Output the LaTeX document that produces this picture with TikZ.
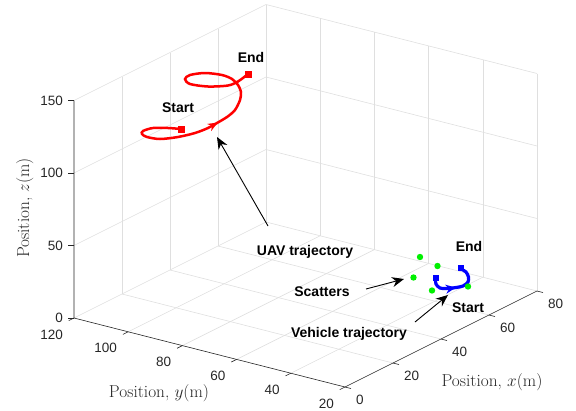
\documentclass[tikz,border=0pt]{standalone}
\usepackage{fontspec}
\newfontfamily\labelfont{Liberation Sans}
\usetikzlibrary{arrows.meta,decorations.markings}

\definecolor{gridgray}{RGB}{223,223,223}
\definecolor{axisgray}{RGB}{38,38,38}
\definecolor{uavred}{RGB}{255,0,0}
\definecolor{vehblue}{RGB}{0,0,255}
\definecolor{scatgreen}{RGB}{0,240,0}

\tikzset{
  gridline/.style={gridgray, line width=0.6pt},
  axisline/.style={axisgray, line width=0.6pt},
  ticklbl/.style={axisgray, font=\labelfont\fontsize{13.5}{14}\selectfont, inner sep=0pt},
  axtitle/.style={axisgray, font=\fontsize{17.3}{18}\selectfont, inner sep=0pt, anchor=base},
  annot/.style={font=\labelfont\bfseries\fontsize{14}{15}\selectfont, inner sep=0pt, anchor=base},
  pointer/.style={-{Stealth[length=12pt,width=10pt]}, line width=0.9pt},
  marker/.style={inner sep=0pt, minimum size=#1},
}

\begin{document}
\begin{tikzpicture}[x=1pt, y=-1pt]
\useasboundingbox (0,0) rectangle (576,410);

% box, grid and axes in data units (x, y, z)
\begin{scope}[shift={(399.2pt,-400.8pt)}, x={(2.4pt,1.2pt)}, y={(-2.71pt,0.69pt)}, z={(0pt,1.45pt)}]
\foreach \gx in {20,40,60,80} \draw[gridline] (\gx,20,0) -- (\gx,120,0);
\foreach \gy in {40,60,...,120} \draw[gridline] (0,\gy,0) -- (80,\gy,0);

\foreach \gx in {20,40,60,80} \draw[gridline] (\gx,120,0) -- (\gx,120,150);
\foreach \gz in {50,100,150} \draw[gridline] (0,120,\gz) -- (80,120,\gz);

\foreach \gy in {20,40,...,100} \draw[gridline] (80,\gy,0) -- (80,\gy,150);
\foreach \gz in {50,100,150} \draw[gridline] (80,20,\gz) -- (80,120,\gz);

\draw[axisline] (0,120,150) -- (0,120,0) -- (0,20,0) -- (80,20,0);
\foreach \tz in {0,50,100,150} \draw[axisline] (0,120,\tz) -- ([xshift=-6pt]0,120,\tz);
\foreach \ty in {20,40,...,120} \draw[axisline] (0,\ty,0) -- (-2.2,\ty,0);
\foreach \tx in {0,20,...,80} \draw[axisline] (\tx,20,0) -- (\tx,17.8,0);
\end{scope}

% tick labels
\foreach \zv in {0,50,100,150} \node[ticklbl, anchor=east] (zl\zv) at (63,{318-1.45*\zv}) {\zv};
\foreach \yv in {20,40,...,120} \node[ticklbl, anchor=east] (yl\yv) at ({388.2-2.71*\yv},{417.3-0.69*\yv}) {\yv};
\foreach \xv in {0,20,...,80} \node[ticklbl, anchor=west] (xl\xv) at ({356+2.4*\xv},{400-1.2*\xv}) {\xv};

\node[axtitle] (xtitle) at (492,386) {Position, $x(\mathrm{m})$};
\node[axtitle] (ytitle) at (159,397) {Position, $y(\mathrm{m})$};
\node[axtitle, rotate=90] (ztitle) at (29,208) {Position, $z(\mathrm{m})$};

% UAV trajectory
\draw[uavred, line width=2.5pt, postaction={decorate},
  decoration={markings, mark=at position 0.41 with {\arrow{Stealth[length=10pt,width=8pt]}}}]
  plot[smooth] coordinates {(181,129) (168,128) (153,128) (143,131) (142,134) (147,137)
  (160,139) (178,137) (195,133) (208,128) (217,123) (227,117) (235,110) (240,100)
  (241,92) (238,85) (232,79) (222,75) (205,73) (190,75) (185,79) (190,84) (208,86.5)
  (228,85.5) (238,81.5) (248,74)};
\node[marker=7pt, fill=uavred] (uavbeg) at (181,129) {};
\node[marker=7pt, fill=uavred] (uavfin) at (248,74) {};

% vehicle trajectory
\draw[vehblue, line width=3.2pt, postaction={decorate},
  decoration={markings, mark=at position 0.47 with {\arrow{Stealth[length=10pt,width=9pt]}}}]
  plot[smooth] coordinates {(435.5,278) (436,284) (440,288) (448,288.5) (456,287.5)
  (463,286) (468,282) (468.5,277) (466,272) (462,269.5) (461,268)};
\node[marker=6pt, fill=vehblue] (vehbeg) at (435.5,278) {};
\node[marker=6pt, fill=vehblue] (vehfin) at (461,268) {};

% scatters
\foreach \sx/\sy [count=\si] in {420/257, 437.5/266, 413.5/277.5, 432/290.5, 468/286.5}
  \fill[scatgreen] (\sx,\sy) circle [radius=3.2] coordinate (sc\si);

% annotations
\node[annot] (uavstart) at (178,112) {Start};
\node[annot] (uavend) at (251,62) {End};
\node[annot] (uavlbl) at (305,255) {UAV trajectory};
\node[annot] (scatlbl) at (322,296) {Scatters};
\node[annot] (vehlbl) at (349,337) {Vehicle trajectory};
\node[annot] (vehend) at (469,251) {End};
\node[annot] (vehstart) at (468,312) {Start};

\coordinate (uavtail) at (268,226);
\coordinate (uavtip) at (217,137);
\coordinate (scattail) at (366,289);
\coordinate (scattip) at (404,279);
\coordinate (vehtail) at (415,322);
\coordinate (vehtip) at (448,295);

\draw[pointer] (uavtail) -- (uavtip);
\draw[pointer] (scattail) -- (scattip);
\draw[pointer] (vehtail) -- (vehtip);

\end{tikzpicture}
\end{document}
